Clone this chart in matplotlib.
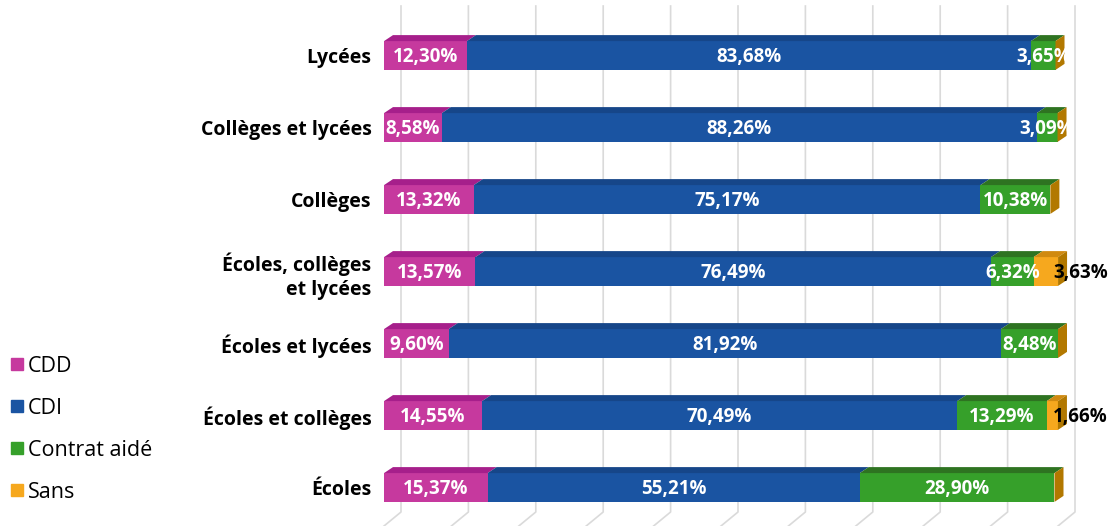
import matplotlib
matplotlib.use("Agg")
from matplotlib import pyplot as plt
from matplotlib.patches import Polygon
from matplotlib.lines import Line2D

categories = ["Lycées", "Collèges et lycées", "Collèges", "Écoles, collèges\net lycées",
              "Écoles et lycées", "Écoles et collèges", "Écoles"]
series = ["CDD", "CDI", "Contrat aidé", "Sans"]
cdd = [12.30, 8.58, 13.32, 13.57, 9.60, 14.55, 15.37]
cdi = [83.68, 88.26, 75.17, 76.49, 81.92, 70.49, 55.21]
aide = [3.65, 3.09, 10.38, 6.32, 8.48, 13.29, 28.90]
sans = [0, 0, 0, 3.63, 0, 1.66, 0]
grid_ticks = [0, 10, 20, 30, 40, 50, 60, 70, 80, 90, 100]

front = ["#C6399E", "#1A54A2", "#36A02A", "#F6A81E"]
top = ["#A61F8B", "#164689", "#2E7321", "#D08A10"]
side = "#B27800"
text_col = ["white", "white", "white", "black"]

plt.rcParams['font.family'] = ['Open Sans', 'DejaVu Sans']

fig = plt.figure(figsize=(11.11, 5.26), dpi=100)
ax = fig.add_axes([384 / 1111, 0, 727 / 1111, 1])
px_x = 6.74   # pixels per percent
px_y = 72.0   # pixels per category
ax.set_xlim(0, 727 / px_x)
ax.set_ylim(6 + 38.5 / px_y, -55.5 / px_y)

# 3D offsets
dx, dy = 9 / px_x, 6 / px_y
gdx = 17 / px_x
h = 0.40

# gridlines with slanted floor
y_top = -49.5 / px_y
y_floor = 6 + 24.5 / px_y
y_front = 6 + 38.5 / px_y
for g in grid_ticks:
    ax.plot([g + gdx, g + gdx, g], [y_top, y_floor, y_front], color="#DADADA",
            lw=1.2, zorder=0, clip_on=False)

data = [cdd, cdi, aide, sans]
for i in range(len(categories)):
    left = 0
    yt = i - h / 2
    yb = i + h / 2
    for s in range(len(series)):
        v = data[s][i]
        if v > 0:
            ax.barh(i, v, left=left, height=h, color=front[s], zorder=2)
            ax.add_patch(Polygon([(left, yt), (left + v, yt), (left + v + dx, yt - dy),
                                  (left + dx, yt - dy)], closed=True, facecolor=top[s],
                                 edgecolor="none", zorder=2))
            lab = f"{v:.2f}".replace(".", ",") + "%"
            if s < 3:
                ax.text(left + v / 2, i + 0.02, lab, ha="center", va="center",
                        color=text_col[s], fontsize=13.5, fontweight="bold", zorder=4)
            else:
                ax.text(left + v - 0.75, i + 0.02, lab, ha="left", va="center",
                        color=text_col[s], fontsize=13.5, fontweight="bold", zorder=4)
        left += v
    ax.add_patch(Polygon([(left, yt), (left, yb), (left + dx, yb - dy), (left + dx, yt - dy)],
                         closed=True, facecolor=side, edgecolor="none", zorder=3))

ax.set_yticks(range(len(categories)))
ax.set_yticklabels(categories, fontsize=14, fontweight="bold", linespacing=1.3)
ax.tick_params(axis="y", length=0, pad=9)
ax.set_xticks([])
for sp in ax.spines.values():
    sp.set_visible(False)
ax.patch.set_alpha(0)

handles = [Line2D([], [], marker="s", linestyle="none", markersize=9,
                  markerfacecolor=c, markeredgecolor=c) for c in front]
fig.legend(handles, series, loc="lower left", bbox_to_anchor=(0.0, 0.028), frameon=False,
           fontsize=15.5, handletextpad=0.1, labelspacing=0.97, handlelength=0.8,
           borderaxespad=0)

fig.savefig("out.png", dpi=100)
